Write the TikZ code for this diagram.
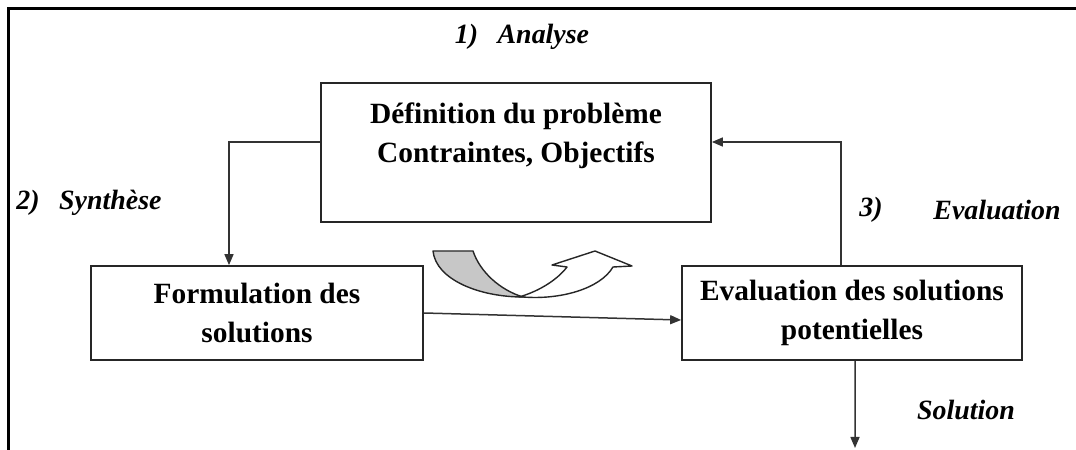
\documentclass[tikz,border=0pt]{standalone}
\usepackage{fontspec}
\setmainfont{Liberation Serif}
\usetikzlibrary{arrows.meta}
\begin{document}
\begin{tikzpicture}[x=1bp,y=-1bp,
  box/.style={draw=black!85,line width=1.7bp,rectangle,inner sep=0pt,align=center,
    font=\bfseries\fontsize{29.5}{39}\selectfont},
  lab/.style={inner sep=0pt,font=\bfseries\itshape\fontsize{28}{34}\selectfont},
  arr/.style={draw=black!80,line width=1.5bp,-{Triangle[length=11bp,width=9bp]}},
  frame/.style={line width=3bp,black}]
\useasboundingbox[fill=white] (0,0) rectangle (1076,450);
\draw[frame] (8.5,450) -- (8.5,8.5) -- (1076,8.5);
% boxes
\node[box,minimum width=390bp,minimum height=139bp] (b1) at (516,152.5)
  {Définition du problème\\Contraintes, Objectifs\\\mbox{}};
\node[box,minimum width=332bp,minimum height=94bp] (b2) at (257,313)
  {Formulation des\\solutions};
\node[box,minimum width=340bp,minimum height=94bp] (b3) at (852,313)
  {Evaluation des solutions\\potentielles};
% labels
\node[lab] (l1) at (522,37) {1)\hspace{0.7em}Analyse};
\node[lab] (l2) at (89,203) {2)\hspace{0.7em}Synthèse};
\node[lab] (l3) at (871,210) {3)};
\node[lab] (l4) at (997,210) {Evaluation};
\node[lab] (l5) at (966,410) {Solution};
% connectors
\coordinate (sol) at (855,448);
\draw[arr] ([yshift=10.5bp]b1.west) -| ([xshift=-28bp]b2.north);
\draw[arr] ([xshift=-11bp]b3.north) |- ([yshift=10.5bp]b1.east);
\draw[arr] (b2.east) -- ([yshift=-7bp]b3.west);
\draw[arr] ([xshift=3bp]b3.south) -- (sol);
% curved U-turn arrow
\draw[line width=1.4bp,black!85,fill=white,line join=round]
  (519,297) .. controls (540,291) and (558,279) .. (567,267)
  -- (552,265) -- (595,251) -- (632,266) -- (613,267)
  .. controls (600,289) and (560,300) .. (523,297) -- cycle;
\draw[line width=1.4bp,black!85,fill=black!22,line join=round]
  (433,251) -- (473,251) .. controls (480,272) and (500,290) .. (523,297)
  .. controls (480,297) and (436,280) .. (433,251) -- cycle;
\end{tikzpicture}
\end{document}
